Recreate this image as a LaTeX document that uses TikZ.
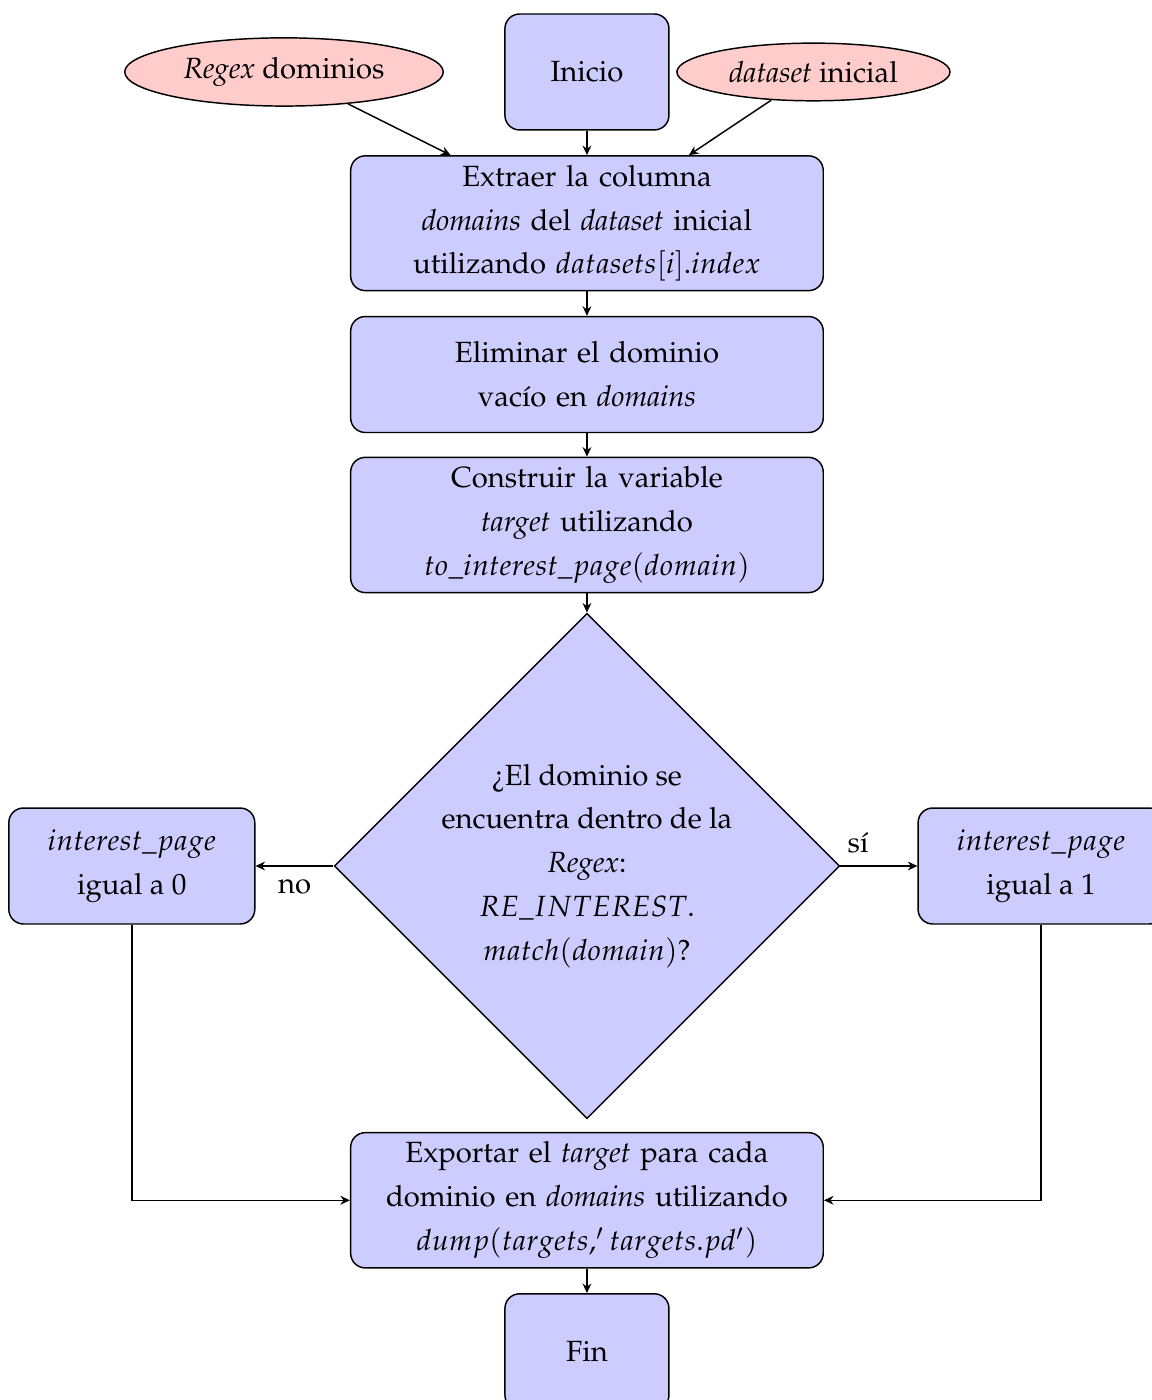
\documentclass[tikz,border=0pt]{standalone}
\usepackage[T1]{fontenc}
\usepackage{mathpazo}
\usepackage{xcolor}
\usepackage{tikz}
\usetikzlibrary{shapes.geometric, arrows.meta, positioning}
\tikzset{
  startstop/.style={rectangle, draw=black, fill=blue!20,
    minimum width=1.577cm, minimum height=1.115cm,
    align=center, rounded corners=4pt},
  process/.style={rectangle, draw=black, fill=blue!20,
    text width=4.31cm, align=center, minimum height=1.115cm,
    inner ysep=2.5pt, rounded corners=4pt},
  sidebox/.style={rectangle, draw=black, fill=blue!20,
    minimum width=2.365cm, minimum height=1.115cm,
    align=center, rounded corners=4pt},
  decision/.style={diamond, draw=black, fill=blue!20, aspect=1,
    minimum width=4.86cm, minimum height=4.86cm, inner sep=0pt,
    align=center},
  io/.style={ellipse, draw=black, fill=red!20, inner ysep=2.6pt},
  arrow/.style={-{Stealth[length=2.6pt,width=2.4pt]}, thin}
}

\begin{document}
\begin{tikzpicture}[every node/.style={font=\fontsize{8}{12}\selectfont}]
  \useasboundingbox (-5.644,0) rectangle (5.433,-13.462);
  % entradas
  \node[startstop] (inicio) at (0,-0.692) {Inicio};
  \node[io] (regex) at (-2.913,-0.692) {\emph{Regex} dominios};
  \node[io] (datos) at (2.178,-0.692) {\emph{dataset} inicial};

  % cadena principal
  \node[process, below=0.235cm of inicio] (extraer) {Extraer la columna\\
    \emph{domains} del \emph{dataset} inicial\\
    utilizando $datasets[i].index$};
  \node[process, below=0.235cm of extraer] (eliminar) {Eliminar el dominio\\
    vac\'{\i}o en \emph{domains}};
  \node[process, below=0.225cm of eliminar] (construir) {Construir la variable\\
    \emph{target} utilizando\\
    $to\_interest\_page(domain)$};
  \node[decision, below=0.185cm of construir] (pregunta) {\textquestiondown El dominio se\\
    encuentra dentro de la\\
    \emph{Regex}:\\
    $RE\_INTEREST$.\\
    $match(domain)$?};
  \node[sidebox, left=0.75cm of pregunta] (cero) {$interest\_page$\\ igual a 0};
  \node[sidebox, right=0.74cm of pregunta] (uno) {$interest\_page$\\ igual a 1};
  \node[process, below=0.12cm of pregunta] (exportar) {Exportar el \emph{target} para cada\\
    dominio en \emph{domains} utilizando\\
    $dump(targets,'targets.pd')$};
  \node[startstop, below=0.235cm of exportar] (fin) {Fin};

  % conectores
  \draw[arrow] (regex) -- (extraer);
  \draw[arrow] (inicio) -- (extraer);
  \draw[arrow] (datos) -- (extraer);
  \draw[arrow] (extraer) -- (eliminar);
  \draw[arrow] (eliminar) -- (construir);
  \draw[arrow] (construir) -- (pregunta);
  \draw[arrow] (pregunta) -- node[below] {no} (cero);
  \draw[arrow] (pregunta) -- node[above, pos=0.23] {s\'{\i}} (uno);
  \draw[arrow] (cero) |- (exportar);
  \draw[arrow] (uno) |- (exportar);
  \draw[arrow] (exportar) -- (fin);
\end{tikzpicture}
\end{document}
